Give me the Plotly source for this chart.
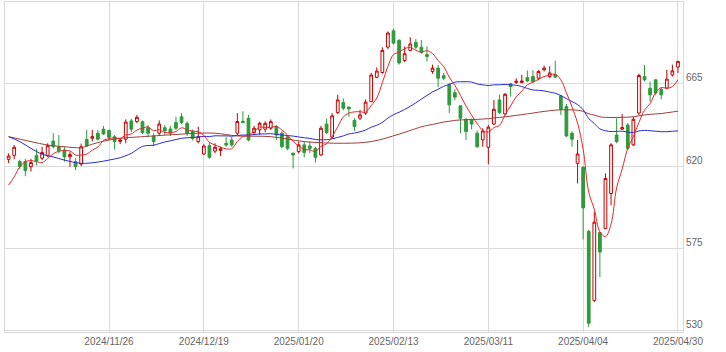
import pandas as pd
import plotly.graph_objects as go

# ---- trading days (Tokyo market) ----
holidays = ["2024-11-04", "2024-12-31", "2025-01-01", "2025-01-02", "2025-01-03",
            "2025-01-13", "2025-02-11", "2025-02-24", "2025-03-20", "2025-04-29"]
bdays = pd.bdate_range("2024-10-30", "2025-04-30")
dates = [d.strftime("%Y-%m-%d") for d in bdays if d.strftime("%Y-%m-%d") not in holidays]

# ---- OHLC ----
opens = [623.7, 625.9, 622.5, 622.5, 619.7, 625.7, 624.3, 625.7, 633.7, 630.6,
         628.8, 625.1, 622.4, 621.1, 634.6, 635.2, 638.0, 640.2, 639.5, 636.0,
         633.5, 634.7, 644.7, 644.3, 644.3, 641.0, 636.5, 638.0, 641.0, 640.3,
         643.8, 647.0, 643.4, 639.0, 633.4, 626.6, 631.2, 628.2, 628.5, 632.5,
         634.3, 638.0, 644.5, 646.2, 638.3, 639.8, 640.2, 640.7, 641.6, 638.0,
         636.0, 627.0, 627.9, 631.6, 631.0, 629.7, 626.1, 643.0, 635.8, 649.3,
         654.8, 652.3, 645.0, 646.2, 649.0, 655.3, 668.6, 671.2, 685.1, 694.0,
         688.8, 677.8, 683.3, 687.7, 685.1, 681.0, 671.8, 673.6, 669.5, 664.5,
         660.2, 653.0, 645.6, 645.2, 638.0, 634.3, 630.3, 643.0, 656.2, 648.5,
         665.0, 665.8, 665.7, 668.5, 669.0, 668.1, 672.7, 669.0, 670.0, 658.4,
         652.6, 638.0, 621.5, 619.3, 584.3, 546.5, 583.6, 585.8, 605.0, 637.0,
         640.2, 642.5, 631.6, 649.0, 669.0, 662.6, 667.2, 662.0, 662.7, 669.9,
         674.2]
highs = [627.0, 631.5, 623.5, 624.0, 624.0, 629.5, 630.5, 632.5, 638.0, 637.0,
         630.6, 628.0, 624.2, 632.3, 639.8, 639.8, 639.8, 642.0, 640.0, 637.0,
         635.0, 645.6, 646.0, 648.0, 645.0, 642.5, 638.0, 645.0, 642.5, 642.0,
         647.0, 649.0, 644.5, 640.0, 641.6, 632.0, 633.0, 632.5, 630.6, 636.0,
         636.0, 649.0, 650.0, 648.0, 642.0, 644.3, 644.5, 645.5, 642.5, 639.0,
         637.0, 627.5, 633.3, 633.3, 633.3, 630.6, 642.0, 646.0, 649.0, 659.0,
         657.0, 652.5, 646.2, 650.7, 656.5, 671.0, 674.0, 685.0, 693.7, 695.0,
         689.5, 685.5, 690.5, 689.5, 689.0, 685.5, 675.5, 675.4, 671.0, 665.4,
         662.0, 653.0, 646.2, 646.0, 639.5, 640.7, 642.5, 656.2, 659.0, 660.0,
         665.5, 668.0, 670.0, 672.3, 672.5, 672.5, 675.0, 674.6, 677.6, 659.0,
         654.0, 639.0, 634.3, 620.0, 585.0, 595.0, 584.0, 616.0, 632.5, 646.2,
         648.5, 643.5, 647.0, 670.5, 675.4, 666.3, 667.5, 663.2, 672.7, 675.5,
         677.6]
lows = [621.6, 623.8, 618.5, 614.5, 617.0, 620.5, 623.3, 625.0, 629.7, 627.0,
        622.4, 619.6, 617.8, 620.0, 630.6, 633.5, 634.0, 637.0, 634.0, 629.0,
        632.0, 632.5, 638.5, 643.5, 637.5, 636.0, 631.0, 636.5, 637.0, 636.5,
        639.8, 643.0, 636.5, 634.0, 632.5, 626.0, 624.0, 627.0, 625.5, 630.6,
        630.6, 637.0, 643.5, 633.5, 637.0, 637.0, 638.5, 639.8, 634.3, 629.7,
        628.8, 618.7, 627.0, 624.8, 627.0, 621.9, 625.5, 637.5, 635.0, 648.5,
        650.5, 647.0, 639.3, 645.2, 648.0, 655.0, 668.0, 670.5, 684.0, 686.5,
        675.5, 676.8, 682.8, 684.0, 681.5, 677.3, 670.5, 663.2, 667.0, 649.0,
        656.0, 638.0, 634.3, 640.0, 630.0, 630.6, 621.0, 642.5, 648.5, 648.0,
        658.0, 665.0, 665.4, 666.0, 665.5, 667.0, 671.8, 668.1, 668.1, 648.0,
        636.0, 630.6, 610.5, 579.8, 531.8, 545.5, 559.3, 585.5, 598.6, 632.5,
        639.8, 629.0, 631.0, 648.0, 666.3, 655.3, 659.0, 656.6, 662.1, 669.0,
        671.0]
closes = [625.5, 630.3, 619.8, 617.5, 621.9, 622.8, 627.4, 631.2, 630.6, 628.4,
          625.1, 626.3, 619.7, 630.6, 631.0, 636.1, 634.7, 637.6, 635.8, 633.4,
          634.3, 644.1, 640.2, 646.7, 638.3, 638.0, 633.4, 643.0, 639.3, 638.0,
          640.7, 643.8, 638.0, 635.2, 636.1, 631.0, 624.8, 630.3, 629.5, 631.5,
          631.6, 644.4, 643.8, 634.3, 640.7, 643.4, 643.4, 644.3, 637.0, 630.6,
          629.7, 626.1, 631.6, 627.4, 629.7, 624.8, 640.7, 638.3, 647.5, 656.2,
          651.7, 651.3, 641.6, 648.0, 655.0, 669.8, 672.0, 683.3, 692.8, 687.3,
          676.4, 681.5, 686.8, 685.1, 682.2, 680.0, 673.6, 668.1, 668.1, 653.5,
          657.7, 646.2, 638.9, 643.0, 630.6, 639.2, 641.3, 651.1, 649.3, 659.3,
          663.5, 666.4, 666.6, 666.6, 666.3, 671.8, 673.6, 670.9, 668.7, 651.1,
          636.5, 634.7, 626.6, 597.1, 534.0, 589.3, 573.0, 613.2, 631.6, 633.4,
          641.1, 629.7, 645.6, 669.6, 667.2, 659.0, 660.0, 659.0, 667.6, 672.1,
          677.3]

# ---- moving-average values before enough visible history ----
ma5_head = [609.6, 614.1, 619.6, 622.4]                       # days 0..3
ma25_head_idx = [0, 2, 4, 6, 8, 10, 13, 16, 18, 20, 22, 23]
ma25_head = [636.1, 633.4, 629.7, 626.5, 625.0, 623.3, 621.5, 622.2, 623.3, 624.6, 627.0, 629.0]
ma75_head_idx = [0, 4, 7, 10, 13, 15, 18, 20, 25, 31, 34, 37, 41, 47, 53, 60, 65, 70]
ma75_head = [636.1, 633.4, 631.5, 630.6, 630.1, 632.0, 634.3, 635.2, 636.3, 637.5,
             638.0, 638.0, 636.5, 636.1, 633.4, 632.5, 633.4, 637.5]

# tick labels
tick_dates = ["2024-11-26", "2024-12-19", "2025-01-20", "2025-02-13",
              "2025-03-11", "2025-04-04", "2025-04-30"]
tick_text = [d.replace("-", "/") for d in tick_dates]
y_ticks = [530, 575, 620, 665]

cs = pd.Series(closes)
ma5_calc = cs.rolling(5).mean().tolist()
ma25_calc = cs.rolling(25).mean().tolist()
ma75_calc = cs.rolling(75).mean().tolist()

ma5_x = dates
ma5_y = ma5_head + ma5_calc[4:]
ma25_x = [dates[i] for i in ma25_head_idx] + dates[24:]
ma25_y = ma25_head + ma25_calc[24:]
ma75_x = [dates[i] for i in ma75_head_idx] + dates[74:]
ma75_y = ma75_head + ma75_calc[74:]

UP = "#c40000"
DOWN = "#2f9a3c"

fig = go.Figure()
fig.add_trace(go.Candlestick(
    x=dates, open=opens, high=highs, low=lows, close=closes,
    increasing=dict(line=dict(color=UP, width=1), fillcolor="#ffffff"),
    decreasing=dict(line=dict(color=DOWN, width=1), fillcolor=DOWN),
    whiskerwidth=0, showlegend=False, hoverinfo="skip"))
fig.add_trace(go.Scatter(x=ma75_x, y=ma75_y, mode="lines",
                         line=dict(color="#a03c3c", width=1, shape="spline"),
                         showlegend=False, hoverinfo="skip"))
fig.add_trace(go.Scatter(x=ma25_x, y=ma25_y, mode="lines",
                         line=dict(color="#2b2bd6", width=1, shape="spline"),
                         showlegend=False, hoverinfo="skip"))
fig.add_trace(go.Scatter(x=ma5_x, y=ma5_y, mode="lines",
                         line=dict(color="#e8262a", width=1, shape="spline"),
                         showlegend=False, hoverinfo="skip"))

grid = "#dadada"
fig.update_layout(
    width=726, height=352,
    margin=dict(l=5, r=43, t=2, b=20),
    paper_bgcolor="white", plot_bgcolor="white",
    font=dict(family="Liberation Sans, Arial, sans-serif", size=10, color="#666666"),
    xaxis=dict(type="category", range=[-0.65, 120.9],
               tickmode="array", tickvals=tick_dates, ticktext=tick_text,
               showgrid=True, gridcolor=grid, gridwidth=1,
               showline=True, linecolor=grid, linewidth=1, mirror=True,
               ticks="", rangeslider=dict(visible=False), zeroline=False),
    yaxis=dict(side="right", range=[529.2, 709.8],
               tickmode="array", tickvals=y_ticks,
               showgrid=True, gridcolor=grid, gridwidth=1,
               showline=True, linecolor=grid, linewidth=1, mirror=True,
               ticks="", zeroline=False, ticklabelshift=-6),
)

fig.write_html("out.html")
